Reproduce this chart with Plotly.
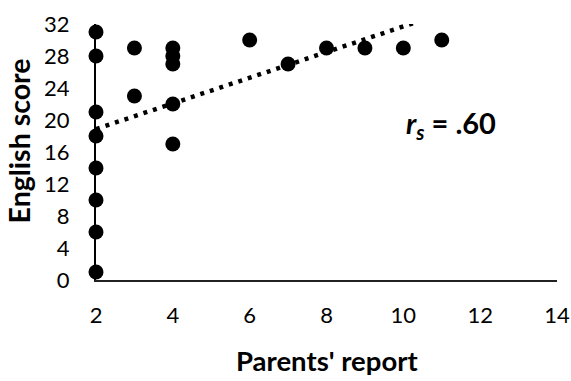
import numpy as np
import plotly.graph_objects as go

parents_report = [2, 2, 2, 2, 2, 2, 2, 2, 3, 3, 4, 4, 4, 4, 4, 6, 7, 8, 9, 10, 11]
english_score = [31, 28, 21, 18, 14, 10, 6, 1, 29, 23, 29, 28, 27, 22, 17, 30, 27, 29, 29, 29, 30]
x_ticks = [2, 4, 6, 8, 10, 12, 14]
y_ticks = [0, 4, 8, 12, 16, 20, 24, 28, 32]

slope, intercept = np.polyfit(parents_report, english_score, 1)
trend_x = [min(parents_report), max(parents_report)]
trend_y = [slope * v + intercept for v in trend_x]

fig = go.Figure()
fig.add_trace(go.Scatter(x=trend_x, y=trend_y, mode="lines",
                         line=dict(color="black", width=4.5, dash="4px,6px"),
                         hoverinfo="skip"))
fig.add_trace(go.Scatter(x=parents_report, y=english_score, mode="markers",
                         marker=dict(color="black", size=15), cliponaxis=False))

font_family = "Lato, 'Open Sans', sans-serif"
fig.update_layout(
    width=571, height=381,
    margin=dict(l=96, r=14, t=24, b=101),
    paper_bgcolor="white", plot_bgcolor="white",
    showlegend=False,
    font=dict(family=font_family, color="black", size=22),
    xaxis=dict(range=[2, 14], tickvals=x_ticks, showgrid=False, zeroline=False,
               showline=True, linecolor="#222", linewidth=2, automargin=False,
               ticks="outside", ticklen=15, tickcolor="rgba(0,0,0,0)",
               tickfont=dict(size=22)),
    yaxis=dict(range=[0, 32], tickvals=y_ticks, showgrid=False, zeroline=False,
               showline=True, linecolor="black", linewidth=2, automargin=False,
               ticks="outside", ticklen=20, tickcolor="rgba(0,0,0,0)",
               tickfont=dict(size=22)),
    annotations=[
        dict(x=11.24, y=19.4, xref="x", yref="y",
             text="<b><i>r</i><sub><i>s</i></sub> = .60</b>",
             showarrow=False, font=dict(size=29, family=font_family)),
        dict(x=0.501, y=-0.3125, xref="paper", yref="paper",
             text="<b>Parents' report</b>", showarrow=False,
             xanchor="center", yanchor="middle", font=dict(size=27.5)),
        dict(x=-0.165, y=0.545, xref="paper", yref="paper",
             text="<b>English score</b>", showarrow=False, textangle=-90,
             xanchor="center", yanchor="middle", font=dict(size=28.5)),
    ],
)
fig.write_html("out.html", config={"displayModeBar": False},
               post_script="document.body.style.margin='0';document.body.style.overflow='hidden';")
